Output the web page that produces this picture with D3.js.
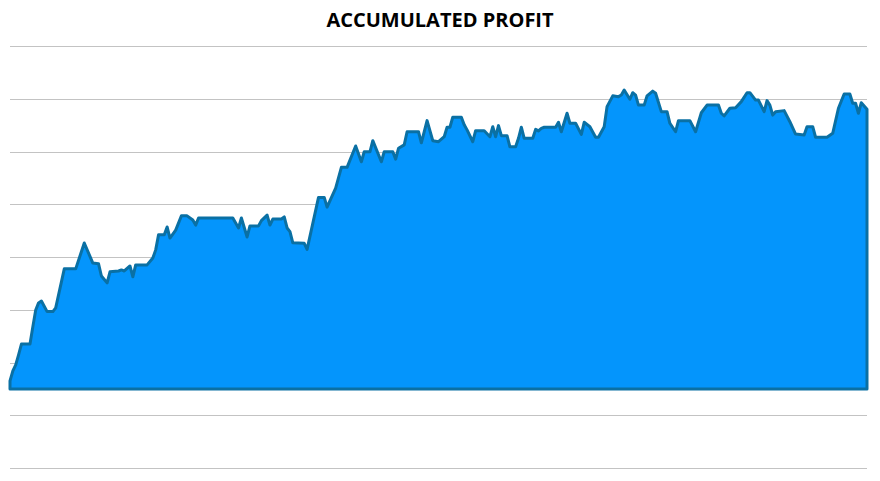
<!DOCTYPE html>
<html>
<head>
<meta charset="utf-8">
<script src="https://cdn.jsdelivr.net/npm/d3@7"></script>
<style>
  html, body { margin: 0; padding: 0; background: #fff; }
  svg { display: block; }
</style>
</head>
<body>
<svg id="chart" width="880" height="481"></svg>
<script>

// trade number -> accumulated profit at the turning points
let trades = [0, 1, 2, 3, 4, 7, 8, 9, 10, 11,
  13, 15, 16, 19, 23, 26, 29, 31, 32, 34,
  35, 38, 39, 40, 42, 43, 44, 48, 50, 51,
  52, 54, 55, 56, 58, 60, 62, 64, 65, 66,
  78, 80, 81, 83, 84, 87, 88, 90, 91, 92,
  95, 96, 97, 98, 99, 103, 104, 108, 110, 111,
  114, 116, 118, 121, 123, 124, 126, 127, 130, 131,
  134, 135, 136, 138, 139, 143, 144, 146, 148, 150,
  152, 153, 154, 155, 158, 159, 160, 162, 163, 166,
  168, 169, 170, 171, 172, 174, 175, 177, 178, 179,
  180, 183, 184, 185, 186, 187, 191, 192, 193, 195,
  196, 198, 200, 201, 203, 205, 206, 208, 209, 211,
  213, 214, 215, 217, 218, 219, 220, 222, 223, 225,
  226, 228, 230, 231, 233, 234, 238, 240, 242, 244,
  248, 249, 250, 252, 254, 256, 258, 259, 261, 262,
  264, 265, 266, 267, 268, 271, 273, 275, 278, 279,
  281, 282, 286, 288, 290, 292, 294, 295, 296, 297,
  298, 300];

let profit = [300, 680, 910, 1290, 1700, 1700, 2360, 2990, 3260, 3330,
  2930, 2930, 3070, 4550, 4550, 5530, 4770, 4740, 4280, 4020,
  4440, 4470, 4510, 4470, 4660, 4250, 4700, 4700, 4960, 5270,
  5840, 5840, 6140, 5720, 6020, 6560, 6560, 6400, 6210, 6480,
  6480, 6100, 6480, 5760, 6180, 6180, 6380, 6590, 6210, 6440,
  6440, 6520, 6100, 5960, 5540, 5520, 5290, 7260, 7260, 6890,
  7610, 8400, 8400, 9210, 8610, 8990, 8990, 9410, 8610, 8990,
  8990, 8710, 9120, 9250, 9750, 9750, 9330, 10170, 9410, 9370,
  9560, 9920, 9920, 10300, 10300, 10010, 9820, 9370, 9790, 9790,
  9560, 9940, 9560, 9980, 9600, 9600, 9180, 9180, 9500, 9920,
  9500, 9500, 9840, 9780, 9880, 9920, 9920, 10110, 9750, 10450,
  10070, 10070, 9650, 10110, 9940, 9540, 9540, 9940, 10700, 11110,
  11080, 11140, 11330, 10980, 11230, 11140, 10760, 10760, 11110, 11290,
  11210, 10510, 10510, 10070, 9750, 10170, 10170, 9750, 10470, 10760,
  10760, 10450, 10350, 10640, 10660, 10890, 11230, 11230, 10950, 10950,
  10510, 10930, 10760, 10380, 10510, 10550, 10130, 9660, 9630, 9940,
  9940, 9540, 9540, 9690, 10640, 11180, 11180, 10830, 10830, 10450,
  10850, 10600];

// gridline values (no labels shown on the chart)
let gridValues = [-3000, -1000, 1000, 3000, 5000, 7000, 9000, 11000, 13000];

let chartTitle = "ACCUMULATED PROFIT";

let data = trades.map((t, i) => ({trade: t, profit: profit[i]}));

let svg = d3.select("#chart");
let margin = {top: 46, right: 13, bottom: 13, left: 10};
let width = 880 - margin.left - margin.right;
let height = 481 - margin.top - margin.bottom;

let g = svg.append("g").attr("transform", "translate(" + margin.left + "," + margin.top + ")");

let x = d3.scaleLinear()
  .domain([0, d3.max(trades)])
  .range([0, width]);

let y = d3.scaleLinear()
  .domain([-3000, 13000])
  .range([height, 0]);

// gridlines
let grid = g.append("g")
  .call(d3.axisLeft(y).tickValues(gridValues).tickSize(-width).tickFormat(""));
grid.select(".domain").remove();
grid.selectAll("line")
  .attr("stroke", "#c3c3c3")
  .attr("stroke-width", 1)
  .attr("shape-rendering", "crispEdges");

let area = d3.area()
  .x(d => x(d.trade))
  .y0(y(0))
  .y1(d => y(d.profit));

g.append("path")
  .datum(data)
  .attr("d", area)
  .attr("fill", "#0495fc")
  .attr("stroke", "#0a70a4")
  .attr("stroke-width", 3)
  .attr("stroke-linejoin", "round");

svg.append("text")
  .attr("x", 440)
  .attr("y", 27)
  .attr("text-anchor", "middle")
  .attr("font-family", "'Open Sans', 'Noto Sans', sans-serif")
  .attr("font-weight", "bold")
  .attr("font-size", 20)
  .attr("fill", "#000")
  .text(chartTitle);

</script>
</body>
</html>
